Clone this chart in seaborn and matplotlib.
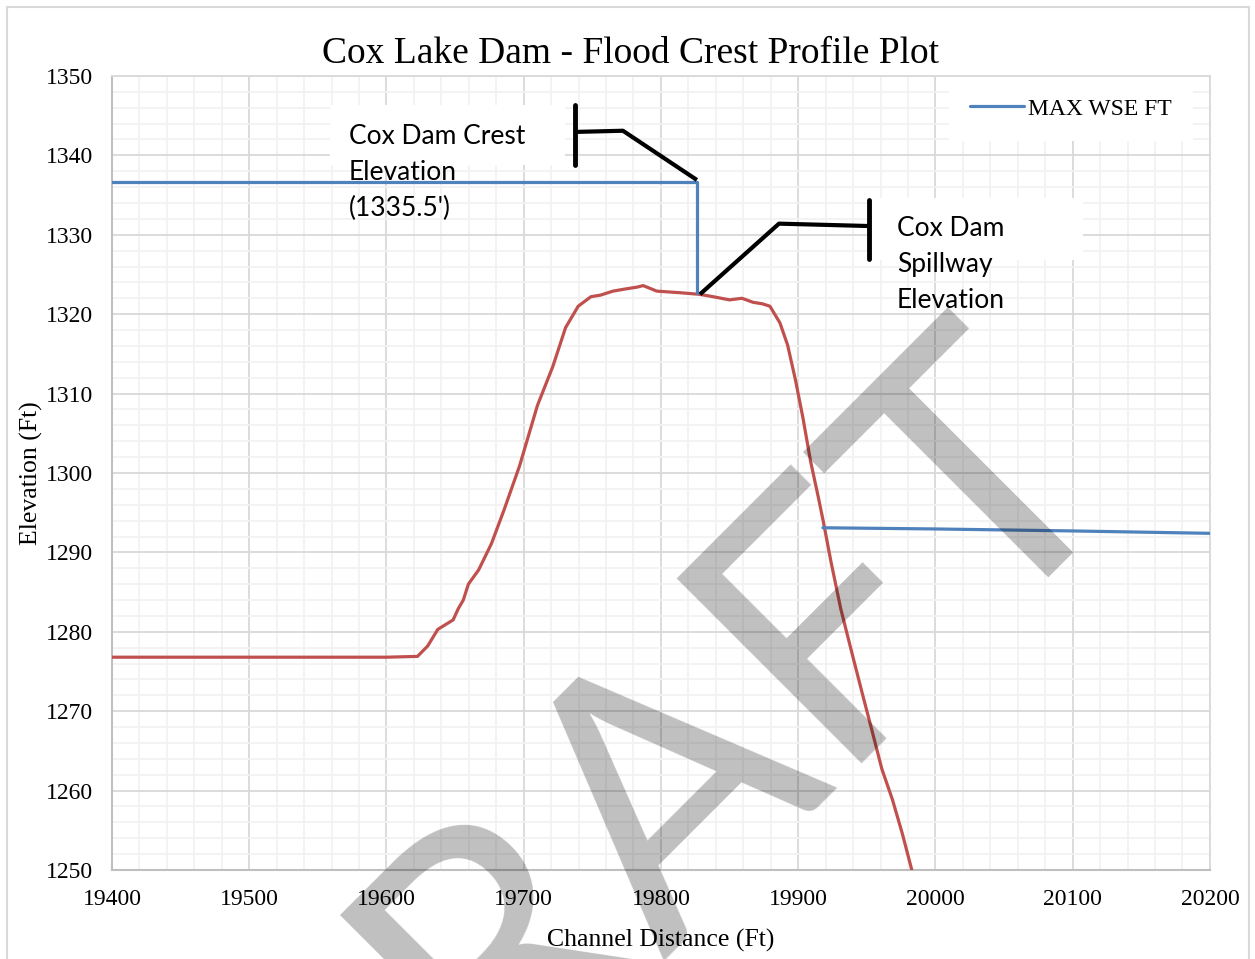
import numpy as np
import pandas as pd
import matplotlib
matplotlib.use("Agg")
import matplotlib.pyplot as plt
import matplotlib.ticker as mtick
from matplotlib.lines import Line2D
from matplotlib.patches import Rectangle
import seaborn as sns

# --- data ---
# ground / crest profile (red line)
profile_x = [19400, 19500, 19600, 19622.6, 19630, 19637.4, 19648.6, 19652.3, 19656, 19659.7,
             19667.2, 19676.5, 19685.8, 19697, 19710, 19721.2, 19730.5, 19739.7, 19749, 19756,
             19765, 19775, 19782.5, 19787, 19797, 19814, 19828, 19838, 19850, 19859,
             19867, 19874, 19879.4, 19886.7, 19892.3, 19897.9, 19903.5, 19909.1, 19914.6, 19918.4,
             19923.8, 19931, 19938.9, 19946.3, 19953.7, 19961, 19968.6, 19976, 19982.7, 19985]
profile_y = [1276.8, 1276.8, 1276.8, 1276.9, 1278.2, 1280.3, 1281.5, 1282.9, 1284.0, 1286.0,
             1287.8, 1291.1, 1295.4, 1300.9, 1308.5, 1313.4, 1318.3, 1321.0, 1322.2, 1322.4,
             1322.9, 1323.2, 1323.4, 1323.6, 1322.9, 1322.7, 1322.5, 1322.2, 1321.8, 1322.0,
             1321.5, 1321.3, 1321.0, 1318.9, 1316.1, 1311.8, 1306.9, 1301.4, 1297.0, 1293.8,
             1288.9, 1282.9, 1277.5, 1272.5, 1267.6, 1262.7, 1258.9, 1254.5, 1250.05, 1248.5]

# max water surface elevation (blue line), two pieces
wse_x = [19400, 19826, 19826, 19918, 20000, 20100, 20200]
wse_y = [1336.6, 1336.6, 1322.7, 1293.1, 1292.95, 1292.7, 1292.4]
wse_piece = [0, 0, 0, 1, 1, 1, 1]
wse_label = "MAX WSE FT"

# callouts
crest_lines = ["Cox Dam Crest", "Elevation", "(1335.5')"]
crest_text_x = 19572.7
crest_text_y = [1341.44, 1336.90, 1332.37]
crest_box = [19558.8, 1338.8, 171.3, 7.55]
crest_leader_x = [19737.3, 19772.3, 19826.2]
crest_leader_y = [1342.95, 1343.1, 1336.9]
crest_bar = [19737.3, 1338.8, 1346.35]

spill_lines = ["Cox Dam", "Spillway", "Elevation"]
spill_text_x = 19972.0
spill_text_y = [1329.85, 1325.31, 1320.78]
spill_box = [19953.7, 1326.8, 153.8, 7.8]
spill_leader_x = [19828.4, 19886.0, 19951.5]
spill_leader_y = [1322.5, 1331.4, 1331.1]
spill_bar = [19951.5, 1326.95, 1334.4]

red = "#c0504d"
blue = "#4f81bd"
serif = "Liberation Serif"
sans = "Lato"

sns.set_style("white")
plt.rcParams["font.family"] = [serif, "DejaVu Serif"]
plt.rcParams["text.color"] = "black"
plt.rcParams["axes.labelcolor"] = "black"

fig = plt.figure(figsize=(12.55, 9.59), dpi=100)
fig.patches.append(Rectangle((7 / 1255, -0.05), 1242 / 1255, 1.05 - 7 / 959,
                             transform=fig.transFigure, fill=False,
                             edgecolor="#d9d9d9", lw=1.5, zorder=0))
ax = fig.add_axes([0.0892, 0.0928, 0.8749, 0.828])

df_profile = pd.DataFrame({"x": profile_x, "y": profile_y})
df_wse = pd.DataFrame({"x": wse_x, "y": wse_y, "piece": wse_piece})

sns.lineplot(data=df_profile, x="x", y="y", sort=False, estimator=None,
             color=red, lw=2.3, ax=ax, zorder=3)
sns.lineplot(data=df_wse, x="x", y="y", units="piece", sort=False, estimator=None,
             color=blue, lw=2.3, ax=ax, legend=False, zorder=3)

ax.set_xlim(19400, 20200)
ax.set_ylim(1250, 1350)
ax.xaxis.set_major_locator(mtick.MultipleLocator(100))
ax.xaxis.set_minor_locator(mtick.MultipleLocator(20))
ax.yaxis.set_major_locator(mtick.MultipleLocator(10))
ax.yaxis.set_minor_locator(mtick.MultipleLocator(2))
ax.set_axisbelow(True)
ax.grid(which="major", color="#d9d9d9", lw=1.3)
ax.grid(which="minor", color="#f2f2f2", lw=1.3)
for side in ["left", "bottom"]:
    ax.spines[side].set_color("#bfbfbf")
    ax.spines[side].set_linewidth(1.5)
for side in ["top", "right"]:
    ax.spines[side].set_color("#d9d9d9")
    ax.spines[side].set_linewidth(1.3)
ax.tick_params(which="major", direction="out", length=4.5, width=1.3, color="#bfbfbf",
               labelsize=17, pad=9, labelcolor="black")
ax.tick_params(which="minor", length=0)

ax.set_xlabel("Channel Distance (Ft)", fontsize=18.5, labelpad=14)
ax.set_ylabel("Elevation (Ft)", fontsize=18.5, labelpad=2)
fig.text(0.5025, 1 - 63 / 959, "Cox Lake Dam - Flood Crest Profile Plot",
         ha="center", va="baseline", fontsize=27)

# legend
handle = Line2D([0], [0], color=blue, lw=2.3)
leg = ax.legend([handle], [wse_label], loc="upper right", bbox_to_anchor=(0.9845, 0.999),
                borderaxespad=0, frameon=True, fancybox=False, facecolor="white",
                edgecolor="none", framealpha=1, fontsize=17, handlelength=2.3,
                handletextpad=0.15, borderpad=0.9)

# callout boxes and text
for box, lines, tx, tys in [(crest_box, crest_lines, crest_text_x, crest_text_y),
                            (spill_box, spill_lines, spill_text_x, spill_text_y)]:
    ax.add_patch(Rectangle((box[0], box[1]), box[2], box[3], facecolor="white",
                           edgecolor="none", zorder=2.5))
    for line, ty in zip(lines, tys):
        ax.text(tx, ty, line, fontsize=19, family=sans, va="baseline", ha="left",
                color="black", zorder=6)

ax.plot(crest_leader_x, crest_leader_y, color="black", lw=3, zorder=5,
        solid_capstyle="butt")
ax.plot([crest_bar[0]] * 2, crest_bar[1:], color="black", lw=3.5, zorder=5)
ax.plot(spill_leader_x, spill_leader_y, color="black", lw=3, zorder=5,
        solid_capstyle="butt")
ax.plot([spill_bar[0]] * 2, spill_bar[1:], color="black", lw=3.5, zorder=5)

# watermark
fig.text(0.568, 0.082, "DRAFT", rotation=45, rotation_mode="anchor",
         ha="center", va="baseline", fontsize=263, family=sans,
         color="black", alpha=0.25, zorder=10)

fig.savefig("out.png", dpi=100)
